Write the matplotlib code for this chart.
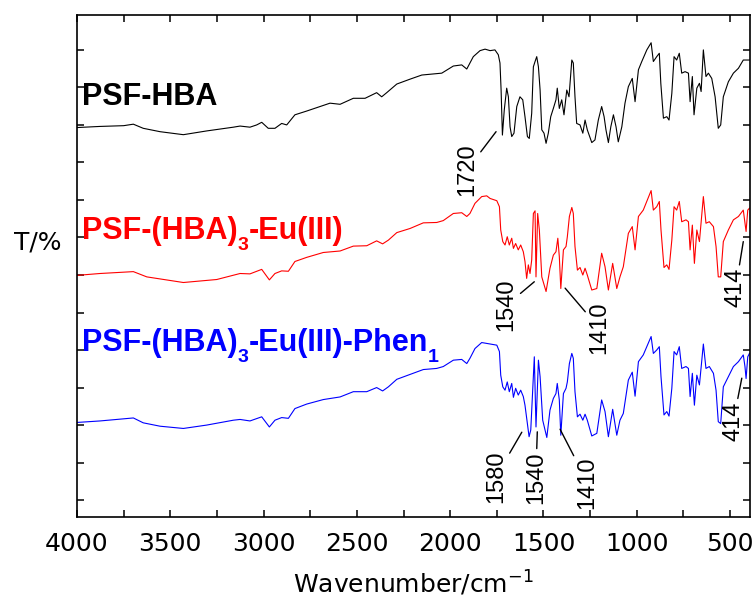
import matplotlib
matplotlib.use("Agg")
import matplotlib.pyplot as plt
from matplotlib.ticker import MultipleLocator
from matplotlib.transforms import offset_copy

# ---------------- data ----------------
black_wn = [4000, 3877, 3750, 3698, 3645, 3555, 3430, 3305, 3162, 3126, 3073, 3037, 3010, 2975,
            2939, 2903, 2876, 2832, 2769, 2698, 2644, 2590, 2519, 2456, 2394, 2367, 2340, 2286,
            2215, 2152, 2090, 2045, 1983, 1938, 1911, 1894, 1876, 1840, 1813, 1786, 1760, 1742,
            1733, 1727, 1720, 1710, 1697, 1688, 1679, 1670, 1658, 1643, 1626, 1611, 1599, 1586,
            1576, 1563, 1554, 1545, 1536, 1527, 1518, 1509, 1497, 1486, 1474, 1461, 1447, 1433,
            1426, 1415, 1402, 1390, 1375, 1363, 1348, 1340, 1331, 1322, 1304, 1289, 1277, 1265,
            1241, 1224, 1206, 1188, 1175, 1165, 1152, 1139, 1125, 1111, 1099, 1080, 1063, 1045,
            1024, 1009, 991, 973, 946, 923, 911, 893, 879, 871, 857, 839, 827, 812, 800, 786,
            772, 759, 741, 723, 714, 702, 693, 678, 664, 655, 643, 629, 616, 598, 580, 563, 550,
            536, 509, 482, 455, 429, 396]
black_t = [99.3, 99.6, 99.8, 100.2, 99.1, 98.2, 97.4, 98.4, 99.4, 99.7, 99.4, 100.0, 100.7, 99.1,
           99.1, 100.4, 100.0, 102.7, 103.7, 104.9, 105.8, 105.5, 107.1, 107.1, 108.6, 107.5, 108.6, 110.9,
           112.2, 113.3, 113.6, 113.8, 115.7, 116.0, 114.9, 116.5, 118.2, 119.8, 120.2, 119.8, 120.0, 118.7,
           116.5, 109.3, 97.3, 104.0, 109.8, 107.5, 99.5, 96.9, 97.8, 104.9, 107.5, 106.7, 102.2, 96.9,
           96.4, 103.1, 115.5, 116.9, 118.2, 115.5, 109.3, 98.7, 97.8, 95.1, 97.8, 102.2, 104.4, 106.7,
           109.8, 104.4, 106.7, 102.7, 109.3, 107.5, 117.3, 116.5, 107.5, 100.4, 100.0, 97.8, 101.3, 98.7,
           95.3, 96.0, 101.3, 104.9, 102.2, 98.7, 95.3, 99.5, 102.7, 99.5, 95.5, 99.5, 105.8, 110.2,
           112.4, 106.2, 114.7, 116.9, 120.0, 121.9, 116.9, 118.2, 119.1, 111.1, 101.8, 102.2, 101.3, 108.4, 118.2, 117.3,
           119.1, 113.8, 114.2, 113.8, 106.2, 112.9, 102.7, 109.8, 111.1, 108.9, 120.0, 112.9, 113.8, 112.4, 107.5, 99.1, 100.0,
           107.5, 111.5, 113.8, 115.1, 117.3, 117.3]

red_wn = [4000, 3877, 3698, 3626, 3430, 3251, 3126, 3073, 3010, 2969, 2939, 2903, 2867, 2832,
          2769, 2680, 2590, 2519, 2447, 2394, 2362, 2331, 2286, 2215, 2144, 2072, 2037, 1983,
          1938, 1911, 1894, 1867, 1831, 1804, 1786, 1750, 1736, 1729, 1718, 1706, 1694, 1683,
          1670, 1661, 1649, 1635, 1622, 1608, 1599, 1590, 1581, 1572, 1563, 1554, 1545, 1540,
          1531, 1522, 1509, 1486, 1465, 1447, 1433, 1423, 1415, 1407, 1393, 1379, 1372, 1361,
          1348, 1340, 1331, 1318, 1304, 1289, 1277, 1265, 1241, 1214, 1188, 1170, 1152, 1129,
          1107, 1090, 1072, 1045, 1024, 1009, 991, 965, 943, 923, 911, 893, 879, 870, 854, 839,
          827, 812, 800, 786, 772, 759, 736, 723, 714, 702, 691, 678, 664, 643, 629, 611, 589,
          575, 563, 550, 536, 509, 482, 455, 429, 420, 414, 405, 396]
red_t = [59.9, 60.4, 60.9, 59.5, 58.0, 58.8, 60.4, 60.3, 61.5, 58.7, 60.4, 61.1, 61.0, 63.6,
         64.7, 66.0, 66.4, 67.7, 67.8, 69.1, 68.3, 69.3, 71.3, 72.4, 73.9, 74.0, 74.5, 76.4,
         76.6, 75.6, 76.4, 79.1, 80.9, 81.1, 80.4, 79.8, 78.2, 72.0, 68.9, 68.0, 70.2, 68.0,
         69.8, 67.1, 68.4, 66.7, 68.0, 66.2, 63.6, 59.1, 62.7, 60.4, 64.0, 76.4, 77.1, 59.5,
         76.4, 72.0, 59.5, 55.6, 61.8, 65.3, 66.2, 69.8, 64.9, 56.4, 66.7, 67.6, 70.2, 75.6,
         78.0, 76.4, 67.6, 61.3, 62.0, 60.0, 61.8, 60.0, 56.0, 56.4, 65.8, 62.2, 56.0, 63.1,
         56.4, 59.5, 62.2, 71.1, 72.9, 66.7, 75.6, 77.3, 80.0, 82.5, 77.3, 78.2, 79.6, 72.0, 62.0, 62.7,
         61.5, 69.3, 78.2, 77.3, 79.6, 74.2, 74.7, 74.2, 66.7, 73.3, 63.1, 72.0, 68.9, 80.9, 73.8, 74.2, 72.9,
         67.6, 59.5, 59.5, 68.9, 72.0, 74.7, 75.6, 77.3, 73.8, 71.6, 77.3, 77.8]

blue_wn = [4000, 3877, 3698, 3645, 3555, 3430, 3305, 3162, 3126, 3073, 3010, 2969, 2939, 2903,
           2867, 2832, 2769, 2680, 2590, 2519, 2447, 2394, 2362, 2331, 2286, 2215, 2144, 2072,
           2037, 1983, 1938, 1911, 1894, 1867, 1831, 1786, 1750, 1736, 1729, 1718, 1706, 1694,
           1683, 1670, 1661, 1649, 1635, 1622, 1608, 1599, 1586, 1577, 1568, 1557, 1549, 1540,
           1527, 1518, 1504, 1482, 1465, 1447, 1433, 1426, 1415, 1407, 1393, 1379, 1372, 1361,
           1348, 1340, 1331, 1318, 1304, 1289, 1277, 1265, 1241, 1214, 1188, 1170, 1152, 1129,
           1107, 1090, 1072, 1045, 1024, 1009, 991, 965, 943, 923, 911, 893, 879, 870, 854, 839,
           827, 812, 800, 786, 772, 759, 736, 723, 714, 702, 691, 678, 664, 643, 629, 611, 589,
           575, 563, 550, 536, 509, 482, 455, 429, 420, 414, 405, 396]
blue_t = [20.7, 21.1, 21.9, 20.6, 19.7, 19.1, 20.0, 21.3, 21.5, 21.1, 22.2, 19.5, 21.3, 22.0,
          21.8, 24.4, 25.6, 26.8, 27.5, 28.9, 28.9, 30.0, 29.1, 30.2, 32.2, 33.5, 34.8, 35.1,
          35.6, 37.3, 37.5, 36.4, 37.8, 40.4, 42.0, 41.6, 41.3, 39.6, 33.3, 30.2, 29.3, 31.5,
          28.9, 31.1, 27.4, 29.8, 28.0, 29.3, 27.6, 25.3, 20.4, 16.9, 18.7, 30.2, 38.2, 19.5,
          37.3, 32.9, 21.3, 16.7, 24.0, 27.1, 28.4, 31.1, 26.7, 17.3, 28.4, 29.8, 31.5, 36.4,
          39.1, 37.8, 28.9, 22.2, 22.9, 21.3, 22.9, 21.3, 17.1, 17.8, 26.7, 23.6, 16.9, 24.2,
          17.3, 21.3, 23.1, 32.0, 34.1, 27.7, 36.9, 38.7, 41.3, 43.6, 39.1, 40.0, 40.9, 32.9, 22.7, 23.6,
          22.4, 29.8, 39.6, 38.7, 40.9, 35.1, 35.6, 35.1, 27.6, 33.8, 25.3, 33.3, 30.7, 41.6, 35.1, 35.6, 33.8,
          29.3, 20.9, 20.4, 30.2, 32.9, 35.6, 36.9, 38.7, 35.6, 32.4, 38.2, 39.1]

# series names as (text, is_subscript) pieces
series_names = [[("PSF-HBA", False)],
                [("PSF-(HBA)", False), ("3", True), ("-Eu(III)", False)],
                [("PSF-(HBA)", False), ("3", True), ("-Eu(III)-Phen", False), ("1", True)]]
series_colors = ["black", "#ff0000", "#0000ff"]

# peak labels: text, label position (wn, T), line end (wn, T)
peak_labels = ["1720", "1540", "1410", "414", "1580", "1540", "1410", "414"]
peak_text_wn = [1910, 1697, 1202, 469, 1755, 1541, 1264, 482]
peak_text_t = [88.0, 52.0, 45.9, 56.7, 6.2, 6.0, 4.7, 21.1]
peak_end_wn = [1754, 1549, 1384, 429, 1616, 1533, 1411, 437]
peak_end_t = [98.2, 58.2, 56.5, 68.9, 18.1, 18.2, 18.9, 32.5]

# ---------------- figure ----------------
W, H = 756, 606
fig = plt.figure(figsize=(W / 100, H / 100), dpi=100)
ax = fig.add_axes([77 / W, 1 - 517 / H, 673 / W, 502 / H])

for wn, t, c in zip([black_wn, red_wn, blue_wn], [black_t, red_t, blue_t], series_colors):
    ax.plot(wn, t, color=c, lw=0.8)

ax.set_xlim(4000, 393)
ax.set_ylim(-4.5, 129.3)
ax.xaxis.set_major_locator(MultipleLocator(500))
ax.xaxis.set_minor_locator(MultipleLocator(250))
ax.yaxis.set_major_locator(MultipleLocator(10))
ax.tick_params(which="both", direction="in", top=True, right=True, length=5, width=1.1)
ax.tick_params(axis="y", labelleft=False)
ax.tick_params(axis="x", labelsize=18, pad=11)
for s in ax.spines.values():
    s.set_linewidth(1.2)

ax.set_xlabel("Wavenumber/cm$^{-1}$", fontsize=18, labelpad=9)
ax.set_ylabel("T/%", fontsize=18, rotation=0, ha="center", va="center")
ax.yaxis.set_label_coords(-0.0587, 0.547)

renderer = fig.canvas.get_renderer()
label_y = [0.8207, 0.5538, 0.3307]
for parts, c, yy in zip(series_names, series_colors, label_y):
    dx = 0.0
    for txt, sub in parts:
        tr = offset_copy(ax.transAxes, fig=fig, x=dx, y=(-11 if sub else 0), units="dots")
        t = ax.text(0.0074, yy, txt, transform=tr, color=c, fontsize=(14 if sub else 22),
                    fontweight="bold", family="Liberation Sans", va="baseline", ha="left")
        dx += t.get_window_extent(renderer).width

for lab, tx, ty, ex, ey in zip(peak_labels, peak_text_wn, peak_text_t, peak_end_wn, peak_end_t):
    ax.annotate(lab, xy=(ex, ey), xytext=(tx, ty), rotation=90, ha="center", va="center",
                fontsize=17, family="Liberation Sans", color="black",
                arrowprops=dict(arrowstyle="-", color="black", lw=1.0, shrinkA=0, shrinkB=0))

fig.savefig("out.png", dpi=100)
